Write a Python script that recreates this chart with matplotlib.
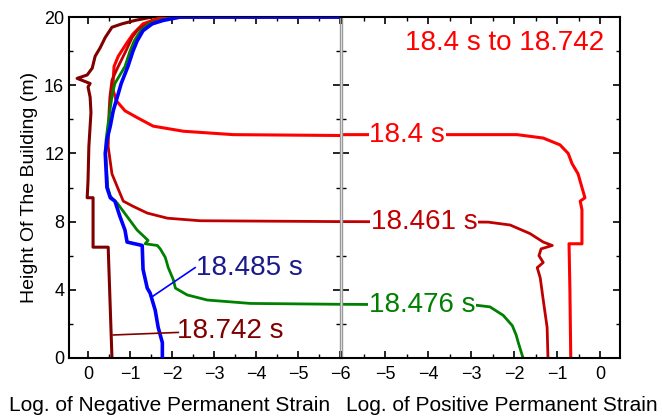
import numpy as np
import matplotlib.pyplot as plt
from matplotlib.ticker import MultipleLocator

plt.rcParams['font.family'] = ['Liberation Sans', 'DejaVu Sans']

# ---- negative permanent strain (left panel), log values ----
h_red_neg = [20, 20, 19.9, 19.6, 19.0, 18.5, 17.7, 17.1, 16.3, 15.7, 15.1, 14.5, 14.1, 13.6, 13.3, 13.1, 13.05]
v_red_neg = [-6, -2.2, -1.65, -1.31, -1.07, -0.93, -0.72, -0.62, -0.60, -0.60, -0.67, -0.88, -1.17, -1.55, -2.27, -3.46, -6]

h_fb_neg = [20, 20, 19.9, 19.7, 19.3, 18.8, 18.0, 17.0, 16.3, 15.3, 14.4, 12.4, 10.8, 9.9, 9.2, 8.9, 8.5, 8.2, 8.05, 8.0]
v_fb_neg = [-6, -2.3, -1.9, -1.5, -1.2, -1.05, -0.9, -0.7, -0.57, -0.52, -0.50, -0.48, -0.57, -0.72, -0.84, -1.07, -1.41, -1.89, -2.67, -6]

h_green_neg = [20, 20, 19.8, 19.6, 19.2, 18.6, 18.0, 17.1, 16.1, 15.5, 14.5, 13.6, 12.8, 12.0, 10.0, 9.5, 9.3, 9.1,
               8.3, 7.5, 6.9, 6.7, 6.6, 6.4, 5.9, 5.3, 4.6, 4.1, 3.7, 3.4, 3.2, 3.15]
v_green_neg = [-6, -2.1, -1.7, -1.45, -1.25, -1.1, -1.0, -0.88, -0.64, -0.58, -0.52, -0.47, -0.43, -0.42, -0.47, -0.53, -0.60, -0.69,
               -0.93, -1.17, -1.43, -1.36, -1.65, -1.72, -1.84, -1.91, -2.03, -2.08, -2.36, -2.84, -3.87, -6]

h_blue_neg = [20, 20, 19.8, 19.6, 19.2, 18.6, 18.0, 17.1, 16.1, 15.5, 14.5, 13.6, 12.8, 12.0, 10.0, 9.4, 9.2,
              8.3, 7.5, 6.8, 6.6, 5.2, 4.1, 3.8, 2.8, 1.8, 0.9, 0]
v_blue_neg = [-6, -2.2, -1.79, -1.53, -1.31, -1.17, -1.07, -0.95, -0.79, -0.72, -0.60, -0.53, -0.45, -0.41, -0.45, -0.53, -0.64,
              -0.76, -0.88, -0.93, -1.29, -1.31, -1.41, -1.48, -1.6, -1.67, -1.77, -1.77]

h_mar_neg = [20, 20, 19.8, 19.6, 19.4, 18.8, 18.2, 17.7, 17.0, 16.6, 16.4, 16.1, 15.9, 15.3, 14.4, 12.4, 10.4, 9.4, 9.4, 6.5, 6.5, 0]
v_mar_neg = [-6, -1.53, -1.12, -0.81, -0.57, -0.41, -0.29, -0.17, -0.1, 0.02, 0.26, -0.05, 0.0, -0.05, -0.07, -0.02, 0.0, 0.02, -0.12, -0.12, -0.48, -0.57]

# ---- positive permanent strain (right panel) ----
h_red_pos = [13.1, 13.1, 12.9, 12.5, 12.0, 11.4, 10.8, 10.0, 9.4, 9.2, 8.7, 6.7, 6.7, 4.0, 0]
v_red_pos = [-6, -1.93, -1.32, -0.93, -0.74, -0.65, -0.51, -0.42, -0.35, -0.46, -0.42, -0.42, -0.72, -0.70, -0.68]

h_fb_pos = [8.0, 7.97, 7.8, 7.3, 6.8, 6.6, 6.4, 6.0, 5.6, 5.3, 4.7, 3.4, 1.8, 0]
v_fb_pos = [-6, -2.6, -2.09, -1.63, -1.32, -1.11, -1.37, -1.42, -1.32, -1.46, -1.39, -1.32, -1.23, -1.21]

h_green_pos = [3.15, 3.1, 3.0, 2.5, 1.9, 1.35, 0.9, 0]
v_green_pos = [-6, -2.9, -2.56, -2.25, -2.04, -1.95, -1.90, -1.79]

c_red = '#ff0000'
c_fb = '#c00000'
c_green = '#008000'
c_blue = '#0000ff'
c_mar = '#800000'
c_navy = '#1a1a8c'

fig = plt.figure(figsize=(6.62, 4.18), dpi=100)
ax1 = fig.add_axes([69/662, 60/418, 271/662, 341/418])
ax2 = fig.add_axes([342/662, 60/418, 278/662, 341/418])

ax1.plot(v_mar_neg, h_mar_neg, color=c_mar, lw=2.2, zorder=2)
ax1.plot(v_red_neg, h_red_neg, color=c_red, lw=2.2, zorder=3)
ax1.plot(v_fb_neg, h_fb_neg, color=c_fb, lw=2.0, zorder=3)
ax1.plot(v_green_neg, h_green_neg, color=c_green, lw=2.0, zorder=4)
ax1.plot(v_blue_neg, h_blue_neg, color=c_blue, lw=2.6, zorder=5)

ax2.plot(v_red_pos, h_red_pos, color=c_red, lw=2.2)
ax2.plot(v_fb_pos, h_fb_pos, color=c_fb, lw=2.0)
ax2.plot(v_green_pos, h_green_pos, color=c_green, lw=2.0)

# leader lines + labels
ax1.plot([-1.53, -2.55], [3.6, 5.3], color=c_blue, lw=1.2, zorder=6)
ax1.text(-2.58, 5.3, '18.485 s', color=c_navy, fontsize=20, ha='left', va='center', zorder=7)
ax1.plot([-0.60, -2.15], [1.35, 1.5], color=c_mar, lw=1.2, zorder=6)
ax1.text(-2.12, 1.6, '18.742 s', color=c_mar, fontsize=20, ha='left', va='center', zorder=7)

box = dict(facecolor='white', edgecolor='none', pad=0.5)
ax2.text(-4.48, 13.1, '18.4 s', color=c_red, fontsize=20, ha='center', va='center', bbox=box, zorder=7)
ax2.text(-4.09, 7.95, '18.461 s', color=c_fb, fontsize=20, ha='center', va='center', bbox=box, zorder=7)
ax2.text(-4.13, 3.1, '18.476 s', color=c_green, fontsize=20, ha='center', va='center', bbox=box, zorder=7)
ax2.text(0.09, 18.5, '18.4 s to 18.742', color=c_red, fontsize=20, ha='right', va='center', zorder=7)

ax1.set_xlim(0.453, -6)
ax2.set_xlim(-6, 0.465)
for ax in (ax1, ax2):
    ax.set_ylim(0, 20)
    ax.yaxis.set_major_locator(MultipleLocator(4))
    ax.yaxis.set_minor_locator(MultipleLocator(2))
    ax.xaxis.set_minor_locator(MultipleLocator(0.5))
    ax.tick_params(which='both', direction='in', top=True, right=True, labelsize=13)
    ax.tick_params(which='major', length=5, width=1.2)
    ax.tick_params(which='minor', length=3, width=1)
    ax.tick_params(axis='x', pad=6)
    for s in ax.spines.values():
        s.set_linewidth(1.5)

ax1.set_xticks([0, -1, -2, -3, -4, -5, -6])
ax2.set_xticks([-6, -5, -4, -3, -2, -1, 0])
ax2.set_xticklabels(['', '\u22125', '\u22124', '\u22123', '\u22122', '\u22121', '0'])
ax2.set_yticklabels([])
ax1.spines['right'].set_color('#999999')
ax1.spines['right'].set_linewidth(1.0)
ax2.spines['left'].set_color('#999999')
ax2.spines['left'].set_linewidth(1.0)

ax1.set_ylabel('Height Of The Building (m)', fontsize=14)
ax1.set_xlabel('Log. of Negative Permanent Strain', fontsize=15)
ax2.set_xlabel('Log. of Positive Permanent Strain', fontsize=15)
ax1.xaxis.set_label_coords((170 - 69) / 271, -38 / 341)
ax2.xaxis.set_label_coords((502 - 342) / 278, -38 / 341)

fig.savefig('out.png', dpi=100)
